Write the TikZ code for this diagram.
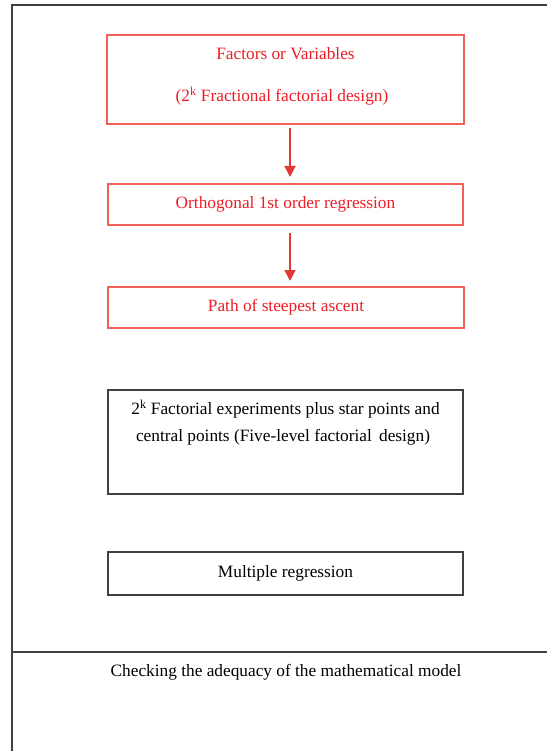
\documentclass[tikz,border=0pt]{standalone}
\usepackage{fontspec}
\setmainfont{Liberation Serif}
\usetikzlibrary{arrows.meta}
\definecolor{redtxt}{HTML}{EE1C25}
\definecolor{redline}{HTML}{F0605A}
\definecolor{redarrow}{HTML}{E53935}
\definecolor{frame}{HTML}{404040}
\tikzset{
  redbox/.style={draw=redline, line width=1.3pt, text=redtxt, font=\fontsize{17.3}{21}\selectfont},
  blackbox/.style={draw=frame, line width=1.2pt, text=black, font=\fontsize{17.3}{21}\selectfont},
  redarr/.style={draw=redarrow, line width=1.6pt, -{Triangle[length=11pt,width=11pt]}},
  plain/.style={font=\fontsize{17.3}{21}\selectfont, text=black}
}
\begin{document}
\begin{tikzpicture}[x=1pt,y=-1pt]
\useasboundingbox (0,0) rectangle (547,751);
% outer frame
\draw[frame, line width=1.2pt] (12,751) -- (12,5) -- (547,5);
\draw[frame, line width=1.2pt] (12,652) -- (547,652);
% boxes
\draw[redbox] (107,35) rectangle (464,124);
\node[redbox, draw=none] (t1) at (285.5,54) {Factors or Variables};
\node[redbox, draw=none] (t1b) at (282,96) {(2\textsuperscript{k} Fractional factorial design)};
\coordinate (b1s) at (290,128);
\coordinate (b2n) at (290,177);
\coordinate (b2s) at (290,233);
\coordinate (b3n) at (290,281);
\node[redbox, minimum width=355pt, minimum height=41pt, inner sep=0pt] (b2) at (285.5,204.5) {Orthogonal 1st order regression};
\node[redbox, minimum width=356pt, minimum height=41pt, inner sep=0pt] (b3) at (286,307.5) {Path of steepest ascent};
\draw[redarr] (b1s) -- (b2n);
\draw[redarr] (b2s) -- (b3n);
% black boxes
\draw[blackbox] (108,390) rectangle (463,494);
\node[plain] (t4a) at (285.5,409) {2\textsuperscript{k} Factorial experiments plus star points and};
\node[plain] (t4b) at (283,437) {central points (Five-level factorial\, design)};
\node[blackbox, minimum width=355pt, minimum height=43pt, inner sep=0pt] (b5) at (285.5,573.5) {Multiple regression};
\node[plain] (t6) at (286,672) {Checking the adequacy of the mathematical model};
\end{tikzpicture}
\end{document}
